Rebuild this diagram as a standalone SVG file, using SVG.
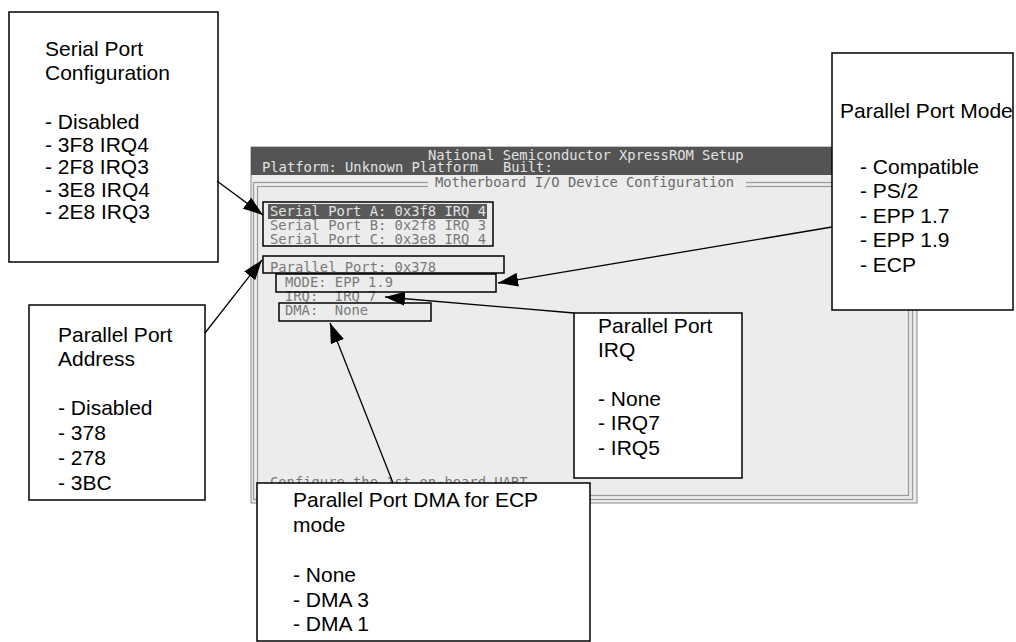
<svg xmlns="http://www.w3.org/2000/svg" width="1016" height="642" viewBox="0 0 1016 642">
  <style>
    .note { fill: #ffffff; stroke: #000000; stroke-width: 1.5; }
    .label { font-family: "Liberation Sans", Arial, sans-serif; font-size: 21px; fill: #000000; }
    .mono { font-family: "DejaVu Sans Mono", "Liberation Mono", monospace; font-size: 13.8px; }
    .scr-text { fill: #7a7a7a; }
    .hdr-text { fill: #e2e2e2; }
    .frame { fill: none; stroke: #9a9a9a; stroke-width: 1.2; }
    .mark { fill: none; stroke: #000000; stroke-width: 1.5; }
    .conn { fill: none; stroke: #000000; stroke-width: 1.3; marker-end: url(#arrow); }
  </style>
  <defs>
    <marker id="arrow" markerUnits="userSpaceOnUse" viewBox="0 0 20 14" refX="20" refY="7" markerWidth="20" markerHeight="14" orient="auto">
      <path d="M0,0 L20,7 L0,14 z" fill="#000000"/>
    </marker>
  </defs>

  <rect width="1016" height="642" fill="#ffffff"/>

  <!-- setup utility screen -->
  <g id="setup-screen">
    <rect x="251" y="147" width="666" height="356" fill="#ececec" stroke="#8a8a8a" stroke-width="1"/>
    <rect x="251" y="147" width="666" height="28" fill="#545454"/>
    <text class="mono hdr-text" x="428" y="160">National Semiconductor XpressROM Setup</text>
    <text class="mono hdr-text" x="262" y="172" xml:space="preserve">Platform: Unknown Platform   Built:</text>

    <!-- double-line frame -->
    <rect class="frame" x="253.5" y="182.5" width="659" height="317"/>
    <rect class="frame" x="257.5" y="186.5" width="651" height="309"/>
    <rect x="428" y="178" width="318" height="12" fill="#ececec"/>
    <text class="mono" x="435" y="187" fill="#6a6a6a">Motherboard I/O Device Configuration</text>

    <!-- menu entries -->
    <rect x="268" y="204" width="219" height="15" fill="#5a5a5a"/>
    <text class="mono hdr-text" x="270" y="216">Serial Port A: 0x3f8 IRQ 4</text>
    <text class="mono scr-text" x="270" y="230">Serial Port B: 0x2f8 IRQ 3</text>
    <text class="mono scr-text" x="270" y="244">Serial Port C: 0x3e8 IRQ 4</text>
    <text class="mono scr-text" x="270" y="272">Parallel Port: 0x378</text>
    <text class="mono scr-text" x="285" y="287">MODE: EPP 1.9</text>
    <text class="mono scr-text" x="285" y="301" xml:space="preserve">IRQ:  IRQ 7</text>
    <text class="mono scr-text" x="285" y="315" xml:space="preserve">DMA:  None</text>
    <text class="mono scr-text" x="270" y="487">Configure the 1st on-board UART</text>
  </g>

  <!-- outlines around the described settings -->
  <g id="setting-marks">
    <rect class="mark" x="263" y="202" width="230" height="44"/>
    <rect class="mark" x="263" y="256" width="241" height="17"/>
    <rect class="mark" x="276" y="274" width="220" height="18"/>
    <rect class="mark" x="279" y="303" width="152" height="18"/>
  </g>

  <g id="serial-port-config">
    <rect class="note" x="9" y="12" width="209" height="250"/>
    <text class="label" x="45" y="56">Serial Port</text>
    <text class="label" x="45" y="80">Configuration</text>
    <text class="label" x="45" y="129">- Disabled</text>
    <text class="label" x="45" y="152">- 3F8 IRQ4</text>
    <text class="label" x="45" y="174">- 2F8 IRQ3</text>
    <text class="label" x="45" y="197">- 3E8 IRQ4</text>
    <text class="label" x="45" y="219">- 2E8 IRQ3</text>
  </g>

  <g id="parallel-port-address">
    <rect class="note" x="29" y="305" width="176" height="195"/>
    <text class="label" x="58" y="342">Parallel Port</text>
    <text class="label" x="58" y="366">Address</text>
    <text class="label" x="58" y="415">- Disabled</text>
    <text class="label" x="58" y="440">- 378</text>
    <text class="label" x="58" y="465">- 278</text>
    <text class="label" x="58" y="490">- 3BC</text>
  </g>

  <g id="parallel-port-mode">
    <rect class="note" x="832" y="53" width="181" height="257"/>
    <text class="label" x="840" y="118">Parallel Port Mode</text>
    <text class="label" x="860" y="174">- Compatible</text>
    <text class="label" x="860" y="198">- PS/2</text>
    <text class="label" x="860" y="223">- EPP 1.7</text>
    <text class="label" x="860" y="247">- EPP 1.9</text>
    <text class="label" x="860" y="272">- ECP</text>
  </g>

  <g id="parallel-port-irq">
    <rect class="note" x="574" y="313" width="168" height="165"/>
    <text class="label" x="598" y="333">Parallel Port</text>
    <text class="label" x="598" y="357">IRQ</text>
    <text class="label" x="598" y="406">- None</text>
    <text class="label" x="598" y="430">- IRQ7</text>
    <text class="label" x="598" y="455">- IRQ5</text>
  </g>

  <g id="parallel-port-dma">
    <rect class="note" x="257" y="483" width="333" height="158"/>
    <text class="label" x="293" y="507">Parallel Port DMA for ECP</text>
    <text class="label" x="293" y="532">mode</text>
    <text class="label" x="293" y="582">- None</text>
    <text class="label" x="293" y="607">- DMA 3</text>
    <text class="label" x="293" y="631">- DMA 1</text>
  </g>

  <g id="connectors">
    <line class="conn" x1="217" y1="181" x2="263" y2="215"/>
    <line class="conn" x1="205" y1="333" x2="262" y2="260"/>
    <line class="conn" x1="832" y1="227" x2="498" y2="283"/>
    <line class="conn" x1="574" y1="313" x2="385" y2="297"/>
    <line class="conn" x1="393" y1="483" x2="330" y2="323"/>
  </g>
</svg>
